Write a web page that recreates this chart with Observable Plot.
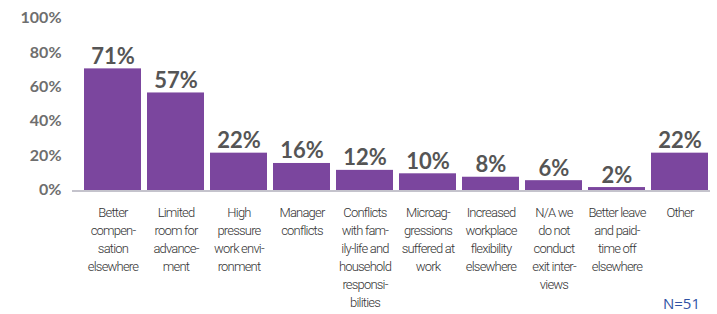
<!DOCTYPE html>
<html>
<head>
<meta charset="utf-8">
<script src="https://cdn.jsdelivr.net/npm/d3@7"></script>
<script src="https://cdn.jsdelivr.net/npm/@observablehq/plot@0.6"></script>
<style>
  html, body { margin: 0; padding: 0; background: #fff; }
  #wrap { position: relative; width: 717px; height: 314px; overflow: hidden; }
  #note { position: absolute; right: 17px; top: 293px; font: 400 15px "Open Sans", Lato, sans-serif; color: #2f52a4; }
  .xaxis text { letter-spacing: -0.8px; }
</style>
</head>
<body>
<div id="wrap"><div id="chart"></div><div id="note">N=51</div></div>
<script>
const categories = ["Better compensation", "Limited room", "High pressure", "Manager conflicts", "Family conflicts", "Microaggressions", "Flexibility", "N/A", "Better leave", "Other"];
const tickLabels = [
  "Better\ncompen-\nsation\nelsewhere",
  "Limited\nroom for\nadvance-\nment",
  "High\npressure\nwork envi-\nronment",
  "Manager\nconflicts",
  "Conflicts\nwith fam-\nily-life and\nhousehold\nresponsi-\nbilities",
  "Microag-\ngressions\nsuffered at\nwork",
  "Increased\nworkplace\nflexibility\nelsewhere",
  "N/A we\ndo not\nconduct\nexit inter-\nviews",
  "Better leave\nand paid-\ntime off\nelsewhere",
  "Other"
];
const values = [71, 57, 22, 16, 12, 10, 8, 6, 2, 22];
const yTicks = [0, 20, 40, 60, 80, 100];

const data = categories.map((c, i) => ({category: c, value: values[i], label: tickLabels[i]}));
const labelOf = new Map(data.map(d => [d.category, d.label]));

const chart = Plot.plot({
  width: 717,
  height: 314,
  marginLeft: 78,
  marginRight: 4,
  marginTop: 18.5,
  marginBottom: 123.5,
  x: {domain: categories, paddingInner: 0.1, paddingOuter: 0.05},
  y: {domain: [0, 100]},
  marks: [
    Plot.barY(data, {x: "category", y: "value", fill: "#7b469e"}),
    Plot.ruleY([0], {stroke: "#c4c3cc", strokeWidth: 2, insetLeft: -6, insetRight: 3}),
    Plot.text(data, {
      x: "category", y: "value", text: d => d.value + "%",
      lineAnchor: "bottom", dy: -5,
      fontSize: 22, fontWeight: 700, fill: "#555555",
      fontFamily: "Lato, sans-serif"
    }),
    Plot.axisY(yTicks, {
      tickSize: 0, tickPadding: 17, dy: -1,
      tickFormat: d => d + "%",
      fontSize: 16, fontWeight: 700, fill: "#6e6e6e",
      fontFamily: "Lato, sans-serif",
      label: null
    }),
    Plot.axisX({
      tickSize: 0, tickPadding: 13, lineAnchor: "top",
      tickFormat: d => labelOf.get(d),
      fontSize: 13, lineHeight: 1.39, fill: "#333333",
      fontWeight: 300,
      fontFamily: "Roboto, sans-serif",
      className: "xaxis",
      label: null
    })
  ]
});
document.getElementById("chart").appendChild(chart);
</script>
</body>
</html>
